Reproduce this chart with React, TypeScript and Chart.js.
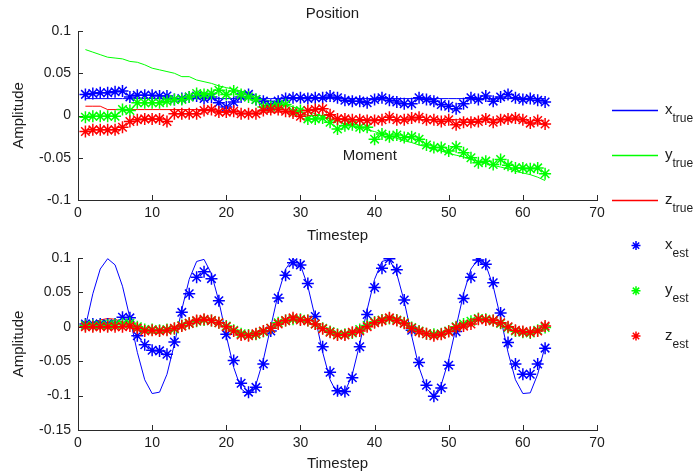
import React, { useEffect, useRef } from 'react';
import { Chart, registerables } from 'chart.js';

Chart.register(...registerables);

// ---------- data ----------
const timesteps = [
  1, 2, 3, 4, 5, 6, 7, 8, 9, 10, 11, 12, 13, 14, 15, 16, 17, 18, 19, 20, 21,
  22, 23, 24, 25, 26, 27, 28, 29, 30, 31, 32, 33, 34, 35, 36, 37, 38, 39, 40, 41, 42,
  43, 44, 45, 46, 47, 48, 49, 50, 51, 52, 53, 54, 55, 56, 57, 58, 59, 60, 61, 62, 63,
];

const xTickValues = [0, 10, 20, 30, 40, 50, 60, 70];
const topYTicks = [-0.1, -0.05, 0, 0.05, 0.1];
const bottomYTicks = [-0.15, -0.1, -0.05, 0, 0.05, 0.1];

// Top panel (Position)
const posXTrue = [
  0.02, 0.02, 0.02, 0.02, 0.02, 0.02, 0.02, 0.02, 0.02, 0.02, 0.02, 0.02, 0.02, 0.02, 0.02, 0.02, 0.02, 0.02, 0.02, 0.02, 0.02,
  0.02, 0.02, 0.02, 0.02, 0.02, 0.02, 0.02, 0.02, 0.02, 0.02, 0.02, 0.02, 0.02, 0.02, 0.02, 0.02, 0.02, 0.02, 0.02, 0.02, 0.02,
  0.02, 0.02, 0.02, 0.02, 0.02, 0.02, 0.02, 0.02, 0.02, 0.02, 0.02, 0.02, 0.02, 0.02, 0.02, 0.02, 0.02, 0.02, 0.02, 0.02, 0.02,
];
const posYTrue = [
  0.078, 0.075, 0.072, 0.069, 0.068, 0.067, 0.064, 0.063, 0.06, 0.056, 0.054, 0.052, 0.05, 0.046, 0.046, 0.042, 0.04, 0.038, 0.035, 0.033, 0.031,
  0.029, 0.026, 0.023, 0.019, 0.017, 0.015, 0.013, 0.01, 0.008, 0.005, 0.002, -0.001, -0.004, -0.007, -0.01, -0.012, -0.014, -0.017, -0.019, -0.022, -0.024,
  -0.027, -0.03, -0.032, -0.035, -0.037, -0.04, -0.042, -0.045, -0.047, -0.049, -0.052, -0.054, -0.057, -0.059, -0.061, -0.063, -0.066, -0.068, -0.07, -0.073, -0.077,
];
const posZTrue = [
  0.011, 0.011, 0.011, 0.007, 0.007, 0.007, 0.007, 0.007, 0.007, 0.007, 0.007, 0.007, 0.007, 0.007, 0.007, 0.007, 0.007, 0.007, 0.004, 0.004, 0.004,
  0.004, 0.004, 0.004, 0.004, 0.004, 0.004, 0.004, 0.004, 0.004, 0.0, 0.0, 0.0, 0.0, -0.005, -0.005, -0.005, -0.005, -0.005, -0.005, -0.005, -0.005,
  -0.005, -0.005, -0.005, -0.005, -0.005, -0.005, -0.005, -0.005, -0.005, -0.005, -0.005, -0.005, -0.005, -0.005, -0.005, -0.005, -0.005, -0.005, -0.01, -0.01, -0.01,
];
const posXEst = [
  0.025, 0.026, 0.027, 0.027, 0.028, 0.029, 0.022, 0.024, 0.024, 0.024, 0.023, 0.023, 0.019, 0.02, 0.022, 0.023, 0.02, 0.022, 0.015, 0.01, 0.016,
  0.022, 0.025, 0.019, 0.017, 0.012, 0.017, 0.02, 0.021, 0.021, 0.02, 0.021, 0.021, 0.023, 0.021, 0.018, 0.017, 0.017, 0.015, 0.019, 0.021, 0.018,
  0.016, 0.014, 0.014, 0.021, 0.019, 0.017, 0.013, 0.011, 0.008, 0.014, 0.021, 0.019, 0.023, 0.017, 0.022, 0.025, 0.021, 0.019, 0.02, 0.018, 0.016,
];
const posYEst = [
  -0.002, -0.001, -0.001, -0.001, -0.001, 0.007, 0.006, 0.015, 0.015, 0.015, 0.015, 0.017, 0.019, 0.019, 0.022, 0.026, 0.025, 0.026, 0.03, 0.025, 0.029,
  0.025, 0.022, 0.019, 0.01, 0.01, 0.012, 0.013, 0.005, 0.006, -0.004, -0.004, -0.003, -0.008, -0.016, -0.012, -0.011, -0.014, -0.014, -0.028, -0.022, -0.025,
  -0.023, -0.026, -0.025, -0.028, -0.035, -0.038, -0.038, -0.042, -0.037, -0.044, -0.05, -0.056, -0.054, -0.058, -0.052, -0.059, -0.062, -0.062, -0.063, -0.062, -0.069,
];
const posZEst = [
  -0.019, -0.017, -0.017, -0.017, -0.017, -0.014, -0.007, -0.005, -0.004, -0.004, -0.004, -0.007, 0.002, 0.002, 0.002, 0.002, 0.006, 0.007, 0.004, 0.004, 0.005,
  0.002, 0.002, 0.002, 0.006, 0.007, 0.007, 0.005, 0.003, -0.001, 0.006, 0.007, 0.008, 0.001, -0.004, -0.004, -0.005, -0.005, -0.006, -0.006, -0.005, -0.002,
  -0.005, -0.005, -0.003, -0.002, -0.005, -0.005, -0.007, -0.005, -0.011, -0.008, -0.008, -0.007, -0.004, -0.008, -0.005, -0.004, -0.003, -0.005, -0.009, -0.006, -0.01,
];

// Bottom panel
const bXTrue = [
  0, 0.048, 0.084, 0.099, 0.09, 0.059, 0.013, -0.037, -0.077, -0.097, -0.095, -0.069, -0.025, 0.025, 0.069, 0.095, 0.098, 0.077, 0.037, -0.013, -0.059,
  -0.09, -0.099, -0.084, -0.048, 0.0, 0.048, 0.084, 0.099, 0.09, 0.059, 0.013, -0.037, -0.077, -0.098, -0.095, -0.069, -0.025, 0.025, 0.069, 0.095, 0.098,
  0.077, 0.037, -0.013, -0.059, -0.09, -0.1, -0.084, -0.048, 0.0, 0.048, 0.084, 0.099, 0.09, 0.059, 0.013, -0.037, -0.077, -0.097, -0.096, -0.069, -0.028,
];
const bYTrue = [
  0, 0.005, 0.008, 0.01, 0.009, 0.006, 0.001, -0.004, -0.007, -0.009, -0.009, -0.006, -0.002, 0.002, 0.006, 0.009, 0.01, 0.008, 0.004, -0.001, -0.006,
  -0.009, -0.01, -0.008, -0.005, 0.0, 0.005, 0.008, 0.01, 0.009, 0.006, 0.001, -0.004, -0.007, -0.01, -0.009, -0.007, -0.002, 0.002, 0.006, 0.009, 0.01,
  0.008, 0.004, -0.001, -0.006, -0.009, -0.01, -0.008, -0.005, 0.0, 0.005, 0.008, 0.01, 0.009, 0.006, 0.001, -0.004, -0.007, -0.009, -0.009, -0.006, -0.002,
];
const bZTrue = [
  0, 0.006, 0.01, 0.012, 0.011, 0.007, 0.002, -0.004, -0.008, -0.009, -0.009, -0.007, -0.003, 0.003, 0.007, 0.01, 0.011, 0.009, 0.004, -0.002, -0.007,
  -0.01, -0.011, -0.01, -0.006, 0.0, 0.005, 0.009, 0.011, 0.01, 0.007, 0.002, -0.004, -0.008, -0.011, -0.011, -0.008, -0.003, 0.003, 0.007, 0.01, 0.011,
  0.009, 0.004, -0.002, -0.007, -0.01, -0.011, -0.01, -0.006, 0.0, 0.005, 0.009, 0.011, 0.01, 0.007, 0.002, -0.004, -0.008, -0.01, -0.01, -0.007, -0.003,
];
const bXEst = [
  0.004, 0.004, 0.004, 0.004, 0.004, 0.014, 0.013, -0.013, -0.026, -0.034, -0.035, -0.04, -0.022, 0.021, 0.048, 0.072, 0.08, 0.07, 0.038, -0.011, -0.049,
  -0.082, -0.095, -0.088, -0.054, -0.006, 0.042, 0.075, 0.093, 0.09, 0.063, 0.015, -0.029, -0.066, -0.093, -0.094, -0.074, -0.029, 0.018, 0.057, 0.085, 0.099,
  0.083, 0.039, -0.005, -0.052, -0.085, -0.101, -0.089, -0.056, -0.007, 0.041, 0.072, 0.097, 0.091, 0.064, 0.02, -0.023, -0.054, -0.069, -0.069, -0.054, -0.031,
];
const bYEst = [
  0.002, 0.002, 0.002, 0.002, 0.003, 0.004, 0.005, 0.0, -0.004, -0.004, -0.005, -0.004, -0.003, 0.002, 0.005, 0.008, 0.01, 0.009, 0.006, 0.001, -0.005,
  -0.01, -0.012, -0.011, -0.007, -0.002, 0.006, 0.009, 0.011, 0.011, 0.009, 0.004, -0.002, -0.007, -0.011, -0.011, -0.009, -0.004, 0.002, 0.007, 0.01, 0.012,
  0.01, 0.006, -0.001, -0.006, -0.01, -0.011, -0.01, -0.006, 0.0, 0.004, 0.008, 0.012, 0.011, 0.009, 0.005, -0.001, -0.006, -0.008, -0.009, -0.005, -0.001,
];
const bZEst = [
  0, 0, 0, 0, 0, 0, 0.001, -0.002, -0.006, -0.005, -0.006, -0.005, -0.002, 0.001, 0.005, 0.009, 0.011, 0.009, 0.006, 0.0, -0.006,
  -0.012, -0.013, -0.01, -0.006, -0.002, 0.004, 0.009, 0.013, 0.01, 0.009, 0.004, -0.003, -0.008, -0.012, -0.012, -0.008, -0.006, 0.0, 0.006, 0.009, 0.013,
  0.009, 0.005, -0.002, -0.007, -0.01, -0.013, -0.011, -0.007, -0.001, 0.001, 0.004, 0.011, 0.01, 0.009, 0.006, 0.0, -0.005, -0.007, -0.008, -0.006, 0.001,
];

const legendLetters = ['x', 'y', 'z', 'x', 'y', 'z'];
const legendSubs = ['true', 'true', 'true', 'est', 'est', 'est'];

// ---------- styles ----------
const BLUE = '#0000ff';
const GREEN = '#00ff00';
const RED = '#ff0000';
const AXIS = '#2a2a2a';
const TEXT = '#1c1c1c';
const FONT = '"Liberation Sans", Arial, sans-serif';
const COLORS = [BLUE, GREEN, RED, BLUE, GREEN, RED];

const toXY = (arr: number[]) => timesteps.map((t, i) => ({ x: t, y: arr[i] }));

const lineDs = (label: string, arr: number[], color: string, order: number) => ({
  label,
  data: toXY(arr),
  borderColor: color,
  backgroundColor: color,
  borderWidth: 1,
  pointRadius: 0,
  pointHoverRadius: 0,
  showLine: true,
  tension: 0,
  order,
});

const estDs = (label: string, arr: number[], color: string, order: number) => ({
  label,
  data: toXY(arr),
  borderColor: color,
  backgroundColor: color,
  showLine: false,
  pointStyle: 'star',
  pointRadius: 6,
  pointBorderWidth: 1.5,
  pointHoverRadius: 6,
  order,
});

const fmt = (v: number) => String(Math.round(v * 100) / 100);

const inwardTicks = {
  id: 'inwardTicks',
  beforeDatasetsDraw(chart: any) {
    const { ctx, chartArea, scales } = chart;
    const xs = scales.x;
    const ys = scales.y;
    ctx.save();
    ctx.strokeStyle = AXIS;
    ctx.lineWidth = 1;
    ctx.beginPath();
    xs.ticks.forEach((t: any) => {
      const px = Math.round(xs.getPixelForValue(t.value)) + 0.5;
      ctx.moveTo(px, chartArea.bottom);
      ctx.lineTo(px, chartArea.bottom - 5);
    });
    ys.ticks.forEach((t: any) => {
      const py = Math.round(ys.getPixelForValue(t.value)) + 0.5;
      ctx.moveTo(chartArea.left, py);
      ctx.lineTo(chartArea.left + 5, py);
    });
    ctx.stroke();
    ctx.restore();
  },
};

const topTexts = {
  id: 'topTexts',
  afterDraw(chart: any) {
    const { ctx, chartArea, scales } = chart;
    ctx.save();
    ctx.fillStyle = TEXT;
    ctx.font = `15px ${FONT}`;
    ctx.textAlign = 'center';
    ctx.textBaseline = 'middle';
    ctx.fillText('Position', (chartArea.left + chartArea.right) / 2 - 5, 14);
    ctx.textAlign = 'left';
    ctx.textBaseline = 'alphabetic';
    ctx.fillText('Moment', scales.x.getPixelForValue(35.7), scales.y.getPixelForValue(-0.0527));
    ctx.restore();
  },
};

const legendPlugin = {
  id: 'sideLegend',
  afterDraw(chart: any) {
    const { ctx } = chart;
    ctx.save();
    legendLetters.forEach((letter, i) => {
      const y = 110 + i * 45.2;
      const color = COLORS[i];
      ctx.strokeStyle = color;
      if (i < 3) {
        ctx.lineWidth = 1.5;
        ctx.beginPath();
        ctx.moveTo(612, Math.round(y) + 0.5);
        ctx.lineTo(658, Math.round(y) + 0.5);
        ctx.stroke();
      } else {
        const cx = 636;
        const r = 4.5;
        const d = r * Math.SQRT1_2;
        ctx.lineWidth = 1.5;
        ctx.beginPath();
        ctx.moveTo(cx - r, y);
        ctx.lineTo(cx + r, y);
        ctx.moveTo(cx, y - r);
        ctx.lineTo(cx, y + r);
        ctx.moveTo(cx - d, y - d);
        ctx.lineTo(cx + d, y + d);
        ctx.moveTo(cx - d, y + d);
        ctx.lineTo(cx + d, y - d);
        ctx.stroke();
      }
      ctx.fillStyle = TEXT;
      ctx.textAlign = 'left';
      ctx.textBaseline = 'alphabetic';
      ctx.font = `15px ${FONT}`;
      ctx.fillText(letter, 665, y + 3.5);
      const w = ctx.measureText(letter).width;
      ctx.font = `12px ${FONT}`;
      ctx.fillText(legendSubs[i], 665 + w, y + 11.5);
    });
    ctx.restore();
  },
};

function makeConfig(p: {
  xT: number[]; yT: number[]; zT: number[];
  xE: number[]; yE: number[]; zE: number[];
  yMin: number; yMax: number; yTicks: number[];
  padTop: number; padBottom: number; xTitlePad: number;
  plugins: any[];
}): any {
  return {
    type: 'line',
    data: {
      datasets: [
        lineDs('x_true', p.xT, BLUE, 6),
        lineDs('y_true', p.yT, GREEN, 5),
        lineDs('z_true', p.zT, RED, 4),
        estDs('x_est', p.xE, BLUE, 3),
        estDs('y_est', p.yE, GREEN, 2),
        estDs('z_est', p.zE, RED, 1),
      ],
    },
    options: {
      responsive: false,
      animation: false,
      devicePixelRatio: 1,
      events: [],
      layout: { padding: { left: 0, right: 100, top: p.padTop, bottom: p.padBottom } },
      plugins: {
        legend: { display: false },
        tooltip: { enabled: false },
        title: { display: false },
      },
      scales: {
        x: {
          type: 'linear',
          position: 'bottom',
          min: 0,
          max: 70,
          afterBuildTicks: (s: any) => { s.ticks = xTickValues.map((v) => ({ value: v })); },
          afterFit: (s: any) => { s.height = 46; },
          grid: { display: false, drawTicks: false },
          border: { display: true, color: AXIS, width: 1 },
          ticks: {
            padding: 5,
            color: TEXT,
            font: { family: FONT, size: 14 },
            maxRotation: 0,
            callback: (v: number) => fmt(v),
          },
          title: {
            display: true,
            text: 'Timestep',
            color: TEXT,
            font: { family: FONT, size: 15 },
            padding: { top: 0, bottom: p.xTitlePad },
          },
        },
        y: {
          type: 'linear',
          min: p.yMin,
          max: p.yMax,
          afterBuildTicks: (s: any) => { s.ticks = p.yTicks.map((v) => ({ value: v })); },
          afterFit: (s: any) => { s.width = 78; },
          grid: { display: false, drawTicks: false },
          border: { display: true, color: AXIS, width: 1 },
          ticks: {
            padding: 7,
            color: TEXT,
            font: { family: FONT, size: 14 },
            callback: (v: number) => fmt(v),
          },
          title: {
            display: true,
            text: 'Amplitude',
            color: TEXT,
            font: { family: FONT, size: 15 },
            padding: { top: 9.5, bottom: 0 },
          },
        },
      },
    },
    plugins: [inwardTicks, ...p.plugins],
  };
}

export default function App() {
  const topRef = useRef<HTMLCanvasElement | null>(null);
  const bottomRef = useRef<HTMLCanvasElement | null>(null);

  useEffect(() => {
    if (!topRef.current || !bottomRef.current) return;
    const top = new Chart(topRef.current, makeConfig({
      xT: posXTrue, yT: posYTrue, zT: posZTrue,
      xE: posXEst, yE: posYEst, zE: posZEst,
      yMin: -0.1, yMax: 0.1, yTicks: topYTicks,
      padTop: 31, padBottom: 230, xTitlePad: 1,
      plugins: [topTexts],
    }));
    const bottom = new Chart(bottomRef.current, makeConfig({
      xT: bXTrue, yT: bYTrue, zT: bZTrue,
      xE: bXEst, yE: bYEst, zE: bZEst,
      yMin: -0.15, yMax: 0.1, yTicks: bottomYTicks,
      padTop: 258, padBottom: 0, xTitlePad: 3,
      plugins: [legendPlugin],
    }));
    return () => {
      top.destroy();
      bottom.destroy();
    };
  }, []);

  return (
    <div style={{ position: 'absolute', left: 0, top: 0, width: 697, height: 476, background: '#ffffff' }}>
      <canvas ref={topRef} width={697} height={476} style={{ position: 'absolute', left: 0, top: 0 }} />
      <canvas ref={bottomRef} width={697} height={476} style={{ position: 'absolute', left: 0, top: 0 }} />
    </div>
  );
}
